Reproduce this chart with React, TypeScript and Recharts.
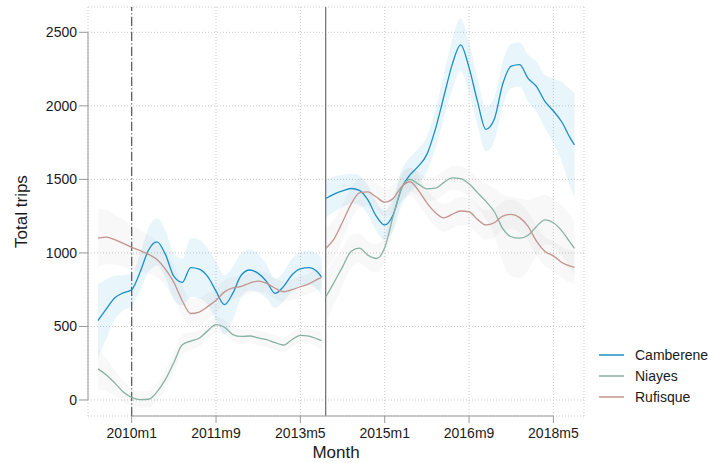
import React from "react";
import { ComposedChart, Area, Line, XAxis, YAxis, CartesianGrid, ReferenceLine } from "recharts";

// months counted from 2010m1 (= 0)
const monthsA = [-8, -6, -4, -2, 0, 2, 4, 6, 8, 10, 12, 14, 16, 18, 20, 22, 24, 26, 28, 30, 32, 34, 36, 38, 40, 42, 44, 45];
const monthsB = [46, 48, 50, 52, 54, 56, 58, 60, 62, 64, 66, 68, 70, 72, 74, 76, 78, 80, 82, 84, 86, 88, 90, 92, 94, 96, 98, 100, 102, 104, 105];

// Camberene
const camA = [540, 620, 695, 728, 750, 870, 1020, 1075, 990, 840, 800, 900, 890, 840, 740, 648, 727, 850, 884, 861, 805, 725, 771, 850, 891, 900, 872, 838];
const camAHalf = [250, 200, 150, 120, 110, 125, 150, 160, 160, 155, 160, 200, 200, 190, 200, 200, 180, 150, 140, 130, 115, 100, 100, 110, 115, 115, 120, 125];
const camB = [1370, 1400, 1422, 1438, 1425, 1360, 1250, 1190, 1260, 1440, 1530, 1590, 1670, 1840, 2060, 2280, 2415, 2260, 2030, 1840, 1910, 2150, 2270, 2280, 2187, 2130, 2030, 1965, 1890, 1780, 1734];
const camBHalf = [130, 120, 110, 100, 100, 100, 100, 100, 110, 120, 120, 120, 120, 130, 150, 170, 180, 170, 160, 150, 150, 150, 150, 150, 160, 170, 180, 220, 270, 330, 355];

// Niayes
const nyA = [212, 170, 115, 55, 18, 2, 5, 55, 140, 255, 375, 400, 420, 470, 512, 495, 445, 432, 435, 422, 410, 390, 374, 410, 440, 435, 415, 403];
const nyAHalf = [140, 110, 85, 70, 60, 55, 55, 60, 65, 65, 65, 60, 55, 55, 55, 50, 50, 50, 50, 50, 50, 50, 50, 50, 50, 50, 55, 60];
const nyB = [700, 800, 905, 1010, 1032, 985, 962, 1035, 1250, 1440, 1500, 1468, 1435, 1440, 1478, 1510, 1505, 1470, 1410, 1350, 1280, 1165, 1110, 1100, 1120, 1180, 1225, 1205, 1150, 1070, 1031];
const nyBHalf = [170, 150, 130, 110, 100, 95, 95, 95, 90, 85, 80, 80, 80, 80, 80, 80, 85, 90, 100, 120, 160, 230, 270, 270, 240, 200, 170, 160, 170, 180, 180];

// Rufisque
const rfA = [1100, 1108, 1090, 1065, 1038, 1015, 990, 955, 890, 800, 675, 588, 598, 635, 678, 735, 762, 772, 795, 808, 793, 760, 736, 750, 770, 790, 820, 834];
const rfAHalf = [200, 185, 170, 160, 150, 140, 130, 120, 115, 110, 105, 100, 95, 90, 85, 80, 75, 70, 70, 70, 70, 70, 70, 70, 70, 70, 75, 80];
const rfB = [1030, 1095, 1210, 1330, 1408, 1415, 1380, 1345, 1370, 1450, 1484, 1425, 1340, 1275, 1238, 1262, 1285, 1280, 1228, 1190, 1205, 1250, 1262, 1240, 1180, 1080, 1010, 980, 935, 910, 902];
const rfBHalf = [140, 130, 120, 110, 100, 95, 95, 95, 95, 95, 95, 95, 95, 95, 95, 95, 95, 95, 95, 100, 100, 100, 100, 100, 100, 100, 100, 100, 105, 110, 115];

const xTicks = [0, 20, 40, 60, 80, 100];
const yTicks = [0, 500, 1000, 1500, 2000, 2500];
const X_MIN = -10.36;
const X_MAX = 107.26;
const Y_MIN = -108.8;
const Y_MAX = 2672;

const FONT = '"Liberation Sans", Arial, Helvetica, sans-serif';

const toRows = (ts: number[], vals: number[], half: number[]) =>
  ts.map((t, i) => ({ t, v: vals[i], band: [vals[i] - half[i], vals[i] + half[i]] }));

const monthLabel = (t: number) => `${2010 + Math.floor(t / 12)}m${(t % 12) + 1}`;

const series = [
  { name: "Camberene", color: "#1b8fc8", band: "#1a9bd0", bandOpacity: 0.1, a: toRows(monthsA, camA, camAHalf), b: toRows(monthsB, camB, camBHalf) },
  { name: "Niayes", color: "#87b2a0", band: "#a0aca6", bandOpacity: 0.08, a: toRows(monthsA, nyA, nyAHalf), b: toRows(monthsB, nyB, nyBHalf) },
  { name: "Rufisque", color: "#c4948e", band: "#aca2a0", bandOpacity: 0.08, a: toRows(monthsA, rfA, rfAHalf), b: toRows(monthsB, rfB, rfBHalf) },
];

export default function App() {
  return (
    <div style={{ position: "absolute", left: 0, top: 0, width: 708, height: 463, background: "#fff", fontFamily: FONT }}>
      <ComposedChart width={708} height={463} margin={{ top: 7, right: 124, bottom: 0, left: 18 }}>
        <CartesianGrid stroke="#c9c9c9" strokeDasharray="1 2" />
        <XAxis
          dataKey="t"
          type="number"
          domain={[X_MIN, X_MAX]}
          allowDataOverflow
          ticks={xTicks}
          tickFormatter={monthLabel}
          axisLine={false}
          tickLine={{ stroke: "#999" }}
          tickSize={7}
          tickMargin={5}
          height={47}
          tick={{ fontSize: 14, fill: "#1a1a1a", fontFamily: FONT }}
          label={{ value: "Month", position: "insideBottom", offset: 5, fontSize: 17, fill: "#1a1a1a", fontFamily: FONT }}
        />
        <YAxis
          type="number"
          domain={[Y_MIN, Y_MAX]}
          allowDataOverflow
          ticks={yTicks}
          axisLine={false}
          tickLine={{ stroke: "#999" }}
          tickSize={9}
          tickMargin={2}
          width={70}
          tick={{ fontSize: 14, fill: "#1a1a1a", fontFamily: FONT }}
          label={{ value: "Total trips", angle: -90, position: "insideLeft", offset: 3, fontSize: 17, fill: "#1a1a1a", fontFamily: FONT, style: { textAnchor: "middle" } }}
        />

        {series.map((s) => [
          <Area key={s.name + "bandA"} data={s.a} dataKey="band" type="monotone" stroke="none" fill={s.band} fillOpacity={s.bandOpacity} isAnimationActive={false} />,
          <Area key={s.name + "bandB"} data={s.b} dataKey="band" type="monotone" stroke="none" fill={s.band} fillOpacity={s.bandOpacity} isAnimationActive={false} />,
        ])}

        <ReferenceLine x={0} stroke="#555" strokeWidth={1.2} strokeDasharray="9 2.5 1 2.5" />
        <ReferenceLine x={46} stroke="#777" strokeWidth={1.3} />
        <ReferenceLine segment={[{ x: X_MIN, y: 0 }, { x: X_MIN, y: 2500 }]} stroke="#999" ifOverflow="visible" />
        <ReferenceLine segment={[{ x: 0, y: Y_MIN }, { x: 100, y: Y_MIN }]} stroke="#999" ifOverflow="visible" />

        {series.map((s) => [
          <Line key={s.name + "A"} data={s.a} dataKey="v" type="monotone" stroke={s.color} strokeWidth={1.3} dot={false} isAnimationActive={false} />,
          <Line key={s.name + "B"} data={s.b} dataKey="v" type="monotone" stroke={s.color} strokeWidth={1.3} dot={false} isAnimationActive={false} />,
        ])}
      </ComposedChart>

      <div style={{ position: "absolute", left: 599, top: 344, fontSize: 14, color: "#1a1a1a" }}>
        {series.map((s) => (
          <div key={s.name} style={{ display: "flex", alignItems: "center", height: 21 }}>
            <span style={{ display: "inline-block", width: 25, height: 2, background: s.color, opacity: 0.75, marginRight: 11 }} />
            <span>{s.name}</span>
          </div>
        ))}
      </div>
    </div>
  );
}
